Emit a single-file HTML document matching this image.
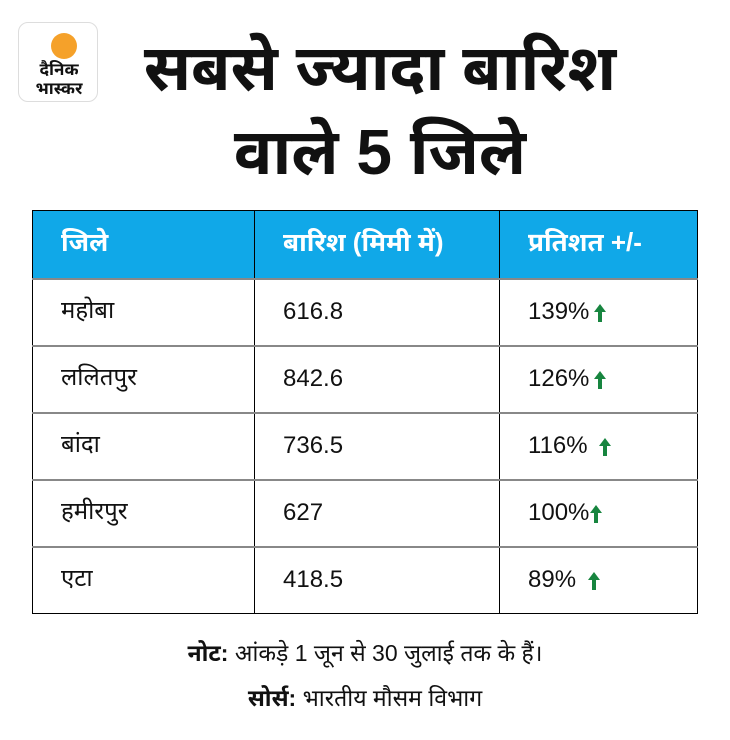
<!DOCTYPE html>
<html><head><meta charset="utf-8"><style>
body{margin:0;width:730px;height:740px;background:#fff;font-family:"Liberation Sans","Noto Sans Devanagari","Lohit Devanagari","FreeSans",sans-serif;position:relative;overflow:hidden}
.logo{position:absolute;left:18px;top:22px;width:80px;height:80px;border:1.5px solid #ddd;border-radius:10px;box-sizing:border-box}
.sun{position:absolute;left:32px;top:10px;width:26px;height:26px;border-radius:50%;background:#f5a12a}
.lt{position:absolute;left:0;width:80px;text-align:center;font-weight:bold;font-size:17px;line-height:18px;color:#111}
.title{position:absolute;left:100px;width:560px;text-align:center;font-weight:bold;font-size:64px;line-height:84px;top:26px;color:#111}
table{position:absolute;left:32px;top:210px;width:666px;border-collapse:collapse;border:1.5px solid #000}
td,th{height:67px;padding:0 0 0 28px;text-align:left;font-size:24px;color:#111;border-left:1.5px solid #000;box-sizing:border-box}
th{background:#10a8e8;color:#fff;font-weight:bold;font-size:26px;height:68px}
tr+tr td{border-top:2px solid #888}
.up{display:inline-block;vertical-align:middle;margin-left:4px}
.note{position:absolute;left:0;width:730px;text-align:center;font-size:23px;color:#111}
</style></head><body>
<div class="logo"><div class="sun"></div><div class="lt" style="top:38px">दैनिक</div><div class="lt" style="top:57px">भास्कर</div></div>
<div class="title">सबसे ज्यादा बारिश<br>वाले 5 जिले</div>
<table>
<tr><th style="width:222px">जिले</th><th style="width:245px">बारिश (मिमी में)</th><th>प्रतिशत +/-</th></tr>
<tr><td>महोबा</td><td>616.8</td><td>139%<svg class="up" width="14" height="20" viewBox="0 0 14 20"><path d="M7 1L1 9h4v10h4V9h4z" fill="#17853f"/></svg></td></tr>
<tr><td>ललितपुर</td><td>842.6</td><td>126%<svg class="up" width="14" height="20" viewBox="0 0 14 20"><path d="M7 1L1 9h4v10h4V9h4z" fill="#17853f"/></svg></td></tr>
<tr><td>बांदा</td><td>736.5</td><td>116% <svg class="up" width="14" height="20" viewBox="0 0 14 20"><path d="M7 1L1 9h4v10h4V9h4z" fill="#17853f"/></svg></td></tr>
<tr><td>हमीरपुर</td><td>627</td><td>100%<svg class="up" style="margin-left:0" width="14" height="20" viewBox="0 0 14 20"><path d="M7 1L1 9h4v10h4V9h4z" fill="#17853f"/></svg></td></tr>
<tr><td>एटा</td><td>418.5</td><td>89% <svg class="up" width="14" height="20" viewBox="0 0 14 20"><path d="M7 1L1 9h4v10h4V9h4z" fill="#17853f"/></svg></td></tr>
</table>
<div class="note" style="top:640px"><b>नोट:</b> आंकड़े 1 जून से 30 जुलाई तक के हैं।</div>
<div class="note" style="top:685px"><b>सोर्स:</b> भारतीय मौसम विभाग</div>
</body></html>
